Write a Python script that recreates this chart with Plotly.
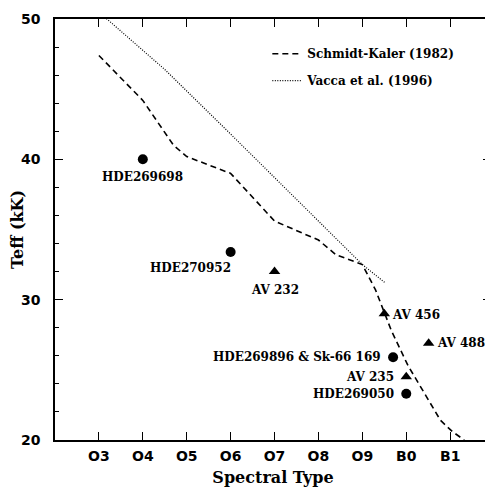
import plotly.graph_objects as go

# Spectral type numeric positions: O3=3 ... O9=9, B0=10, B1=11
tick_vals = [3, 4, 5, 6, 7, 8, 9, 10, 11]
tick_text = ["O3", "O4", "O5", "O6", "O7", "O8", "O9", "B0", "B1"]

# Schmidt-Kaler (1982) calibration
sk_type = [3, 4, 4.7, 5, 6, 7, 8, 8.4, 9, 9.3, 9.66, 10.04, 10.42, 10.78, 11.05, 11.32]
sk_teff = [47.4, 44.2, 41.0, 40.2, 39.0, 35.6, 34.25, 33.2, 32.5, 30.7, 27.8, 25.3, 23.3, 21.4, 20.6, 20.0]

# Vacca et al. (1996) calibration
va_type = [3, 4, 4.5, 6, 7, 8, 9, 9.52]
va_teff = [50.5, 47.8, 46.4, 41.8, 38.7, 35.6, 32.5, 31.2]

# Stars
circ_names = ["HDE269698", "HDE270952", "HDE269896 & Sk-66 169", "HDE269050"]
circ_type = [4.0, 6.0, 9.7, 10.0]
circ_teff = [40.0, 33.4, 25.9, 23.3]

tri_names = ["AV 232", "AV 456", "AV 488", "AV 235"]
tri_type = [7.0, 9.5, 10.51, 10.0]
tri_teff = [32.0, 29.0, 26.9, 24.5]

LABEL_FONT = dict(family="DejaVu Serif", size=12, color="black", weight="bold")
TITLE_FONT = dict(family="DejaVu Serif", size=16, color="black", weight="bold")

fig = go.Figure()
fig.add_trace(go.Scatter(x=sk_type, y=sk_teff, mode="lines", name="Schmidt-Kaler (1982)",
                         legendgroup="a",
                         line=dict(color="black", width=1.6, dash="6px,4px")))
fig.add_trace(go.Scatter(x=va_type, y=va_teff, mode="lines", name="Vacca et al. (1996)",
                         legendgroup="b",
                         line=dict(color="black", width=1.2, dash="1px,1.5px")))
fig.add_trace(go.Scatter(x=circ_type, y=circ_teff, mode="markers", showlegend=False,
                         marker=dict(symbol="circle", size=10, color="black")))
fig.add_trace(go.Scatter(x=tri_type, y=tri_teff, mode="markers", showlegend=False,
                         marker=dict(symbol="triangle-up", size=10, color="black")))

# label placement (anchor, xshift, yshift) for each star
circ_pos = [("center", 0, -18), ("right", 2, -16), ("right", -10, 0), ("right", -10, 0)]
tri_pos = [("center", 0, -18), ("left", 6, -1), ("left", 6, 0), ("right", -10, 0)]

for names, xs, ys, pos in [(circ_names, circ_type, circ_teff, circ_pos),
                           (tri_names, tri_type, tri_teff, tri_pos)]:
    for n, xv, yv, (anc, xs_, ys_) in zip(names, xs, ys, pos):
        fig.add_annotation(x=xv, y=yv, xref="x", yref="y", text=n, showarrow=False,
                           xanchor=anc, yanchor="middle", xshift=xs_, yshift=ys_,
                           font=LABEL_FONT)

axis_common = dict(showline=True, linecolor="black", linewidth=1.5, mirror="allticks",
                   ticks="inside", tickcolor="black", tickwidth=1.2, showgrid=False,
                   zeroline=False,
                   tickfont=dict(family="DejaVu Sans", size=14, color="black", weight="bold"))

fig.update_xaxes(range=[2, 11.93], tickvals=tick_vals, ticktext=tick_text, ticklen=8,
                 ticklabelstandoff=2,
                 title=dict(text="Spectral Type", standoff=9, font=TITLE_FONT),
                 **axis_common)
fig.update_yaxes(range=[20, 50], dtick=10, ticklen=8, ticklabelstandoff=10,
                 minor=dict(dtick=2, ticks="inside", ticklen=4, tickcolor="black", tickwidth=1),
                 title=dict(text="Teff (kK)", standoff=2, font=TITLE_FONT),
                 **axis_common)

# page body has an 8px default margin, so the figure is sized to fit the 493x487 window
fig.update_layout(
    width=485, height=479,
    margin=dict(l=43, r=0, t=11, b=47),
    paper_bgcolor="white", plot_bgcolor="white",
    showlegend=True,
    legend=dict(x=0.487, y=0.952, xanchor="left", yanchor="top", bgcolor="rgba(0,0,0,0)",
                font=LABEL_FONT, tracegroupgap=8, borderwidth=0),
)

fig.write_html("out.html")
